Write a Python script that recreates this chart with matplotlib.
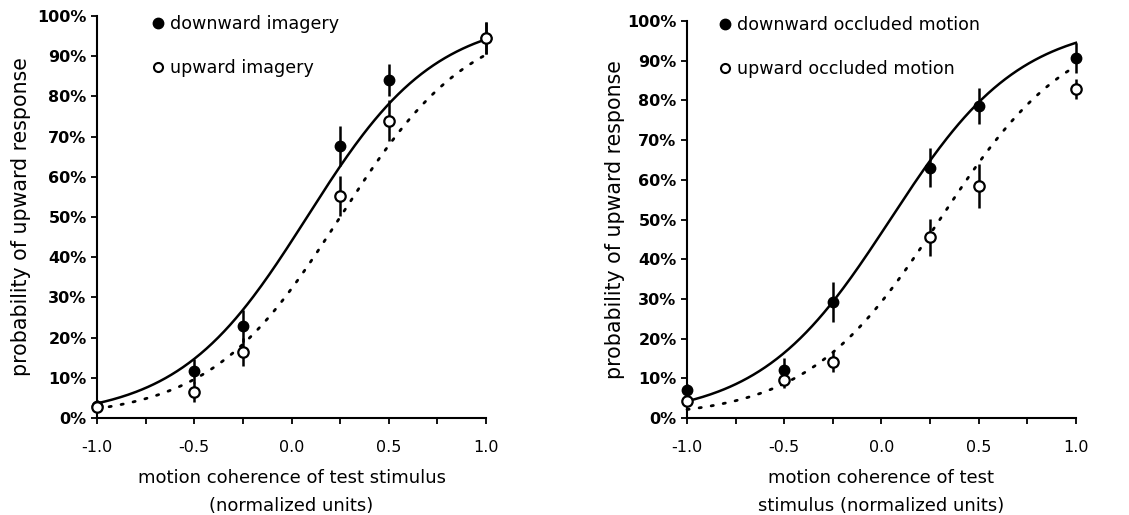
import numpy as np
import matplotlib
matplotlib.use("Agg")
import matplotlib.pyplot as plt
from matplotlib.lines import Line2D

plt.rcParams['font.family'] = ['DejaVu Sans']

# test stimulus coherence levels (normalized units)
coherence = [-1.0, -0.5, -0.25, 0.25, 0.5, 1.0]

# imagery condition: proportion of "up" responses and error bars
img_down = [0.030, 0.117, 0.228, 0.677, 0.840, 0.946]
img_down_err = [0.015, 0.030, 0.040, 0.050, 0.040, 0.040]
img_up = [0.028, 0.065, 0.165, 0.553, 0.740, 0.946]
img_up_err = [0.012, 0.025, 0.035, 0.050, 0.050, 0.040]

# occluded motion condition
occ_down = [0.070, 0.122, 0.292, 0.631, 0.786, 0.908]
occ_down_err = [0.015, 0.030, 0.050, 0.050, 0.045, 0.038]
occ_up = [0.044, 0.095, 0.142, 0.455, 0.585, 0.828]
occ_up_err = [0.010, 0.020, 0.027, 0.046, 0.055, 0.025]

# fitted psychometric functions: (midpoint, spread)
img_down_fit = (0.08, 0.33)
img_up_fit = (0.25, 0.335)
occ_down_fit = (0.045, 0.335)
occ_up_fit = (0.30, 0.34)

y_ticks = np.arange(0, 1.01, 0.1)
y_labels = ['%d%%' % round(v * 100) for v in y_ticks]
x_ticks = [-1.0, -0.5, 0.0, 0.5, 1.0]
x_labels = ['-1.0', '-0.5', '0.0', '0.5', '1.0']


def logistic(x, fit):
    mid, spread = fit
    return 1.0 / (1.0 + np.exp(-(x - mid) / spread))


def panel(ax, down, down_err, up, up_err, fit_down, fit_up, names, xlabel,
          legend_xy, ylabel_x):
    xs = np.linspace(-1, 1, 200)
    ax.plot(xs, logistic(xs, fit_down), color='black', lw=1.8, clip_on=False)
    ax.plot(xs, logistic(xs, fit_up), color='black', lw=2.0,
            linestyle=(0, (0.8, 3.6)), dash_capstyle='round', clip_on=False)
    ax.errorbar(coherence, down, yerr=down_err, fmt='o', color='black',
                ms=7.5, mfc='black', mec='black', elinewidth=1.8,
                capsize=0, clip_on=False, zorder=3)
    ax.errorbar(coherence, up, yerr=up_err, fmt='o', color='black',
                ms=7.5, mfc='white', mec='black', mew=1.6, elinewidth=1.8,
                capsize=0, clip_on=False, zorder=4)

    ax.set_xlim(-1, 1)
    ax.set_ylim(0, 1)
    ax.set_xticks(x_ticks)
    ax.set_xticklabels(x_labels, fontsize=11.5)
    ax.set_xticks([-0.75, -0.25, 0.25, 0.75], minor=True)
    ax.set_yticks(y_ticks)
    ax.set_yticklabels(y_labels, fontsize=11.5, fontweight='bold')
    ax.tick_params(which='both', direction='out', length=4, width=1.3)
    ax.tick_params(axis='x', pad=12)
    ax.spines['top'].set_visible(False)
    ax.spines['right'].set_visible(False)
    ax.spines['left'].set_linewidth(1.5)
    ax.spines['bottom'].set_linewidth(1.5)
    ax.set_xlabel(xlabel, fontsize=13, labelpad=10, linespacing=1.7)
    ax.set_ylabel('probability of upward response', fontsize=14.8)
    ax.yaxis.set_label_coords(ylabel_x, 0.5)

    handles = [
        Line2D([], [], marker='o', ls='none', ms=7.5, mfc='black', mec='black'),
        Line2D([], [], marker='o', ls='none', ms=6.5, mfc='white', mec='black', mew=1.5),
    ]
    ax.legend(handles, names, loc='upper left', bbox_to_anchor=legend_xy,
              frameon=False, fontsize=12.6, handlelength=0.6, handletextpad=0.4,
              labelspacing=1.5, borderpad=0)


fig = plt.figure(figsize=(11.29, 5.15), dpi=100)
ax1 = fig.add_axes([0.0859, 0.1883, 0.3446, 0.7807])
ax2 = fig.add_axes([0.6085, 0.1883, 0.3445, 0.7707])

panel(ax1, img_down, img_down_err, img_up, img_up_err, img_down_fit, img_up_fit,
      ['downward imagery', 'upward imagery'],
      'motion coherence of test stimulus\n(normalized units)',
      (0.12, 1.025), -0.170)
panel(ax2, occ_down, occ_down_err, occ_up, occ_up_err, occ_down_fit, occ_up_fit,
      ['downward occluded motion', 'upward occluded motion'],
      'motion coherence of test\nstimulus (normalized units)',
      (0.061, 1.035), -0.160)

fig.savefig('out.png', dpi=100)
